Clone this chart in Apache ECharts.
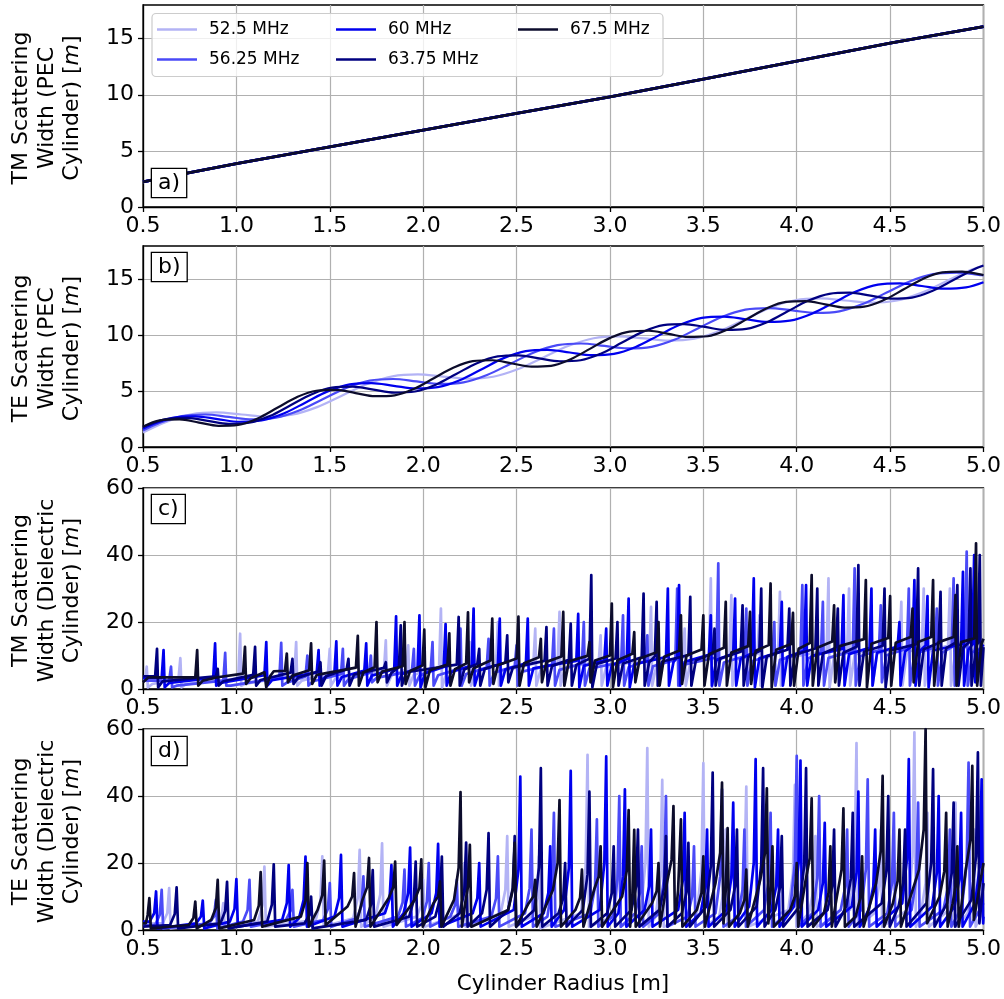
<!DOCTYPE html>
<html>
<head>
<meta charset="utf-8">
<script src="https://cdn.jsdelivr.net/npm/echarts@6/dist/echarts.min.js"></script>
<style>html,body{margin:0;padding:0;background:#fff;}#chart{width:1004px;height:999px;}</style>
</head>
<body>
<div id="chart"></div>
<script>
// ---------- data ----------
const freqNames = ['52.5 MHz', '56.25 MHz', '60 MHz', '63.75 MHz', '67.5 MHz'];
const xTicks = [0.5, 1.0, 1.5, 2.0, 2.5, 3.0, 3.5, 4.0, 4.5, 5.0];
const yTicksPec = [0, 5, 10, 15];
const yTicksDiel = [0, 20, 40, 60];

// a) TM, PEC cylinder (all five frequencies coincide)
const tmPecWidth = [[0.5,2.23],[0.75,3.07],[1.0,3.87],[1.5,5.36],[2.0,6.85],[2.5,8.34],[3.0,9.82],[3.5,11.4],[4.0,13.0],[4.5,14.6],[5.0,16.07]];

// b) TE, PEC cylinder
const tePec525 = [[0.5,1.29],[0.624,2.25],[0.759,2.93],[0.893,3.10],[1.028,2.91],[1.163,2.72],[1.297,2.89],[1.432,3.57],[1.567,4.61],[1.701,5.65],[1.836,6.33],[1.971,6.50],[2.105,6.31],[2.240,6.12],[2.375,6.29],[2.509,6.98],[2.644,8.02],[2.779,9.06],[2.913,9.74],[3.048,9.91],[3.183,9.72],[3.317,9.53],[3.452,9.70],[3.587,10.38],[3.722,11.42],[3.856,12.46],[3.991,13.14],[4.126,13.31],[4.260,13.12],[4.395,12.93],[4.530,13.10],[4.664,13.78],[4.799,14.83],[4.934,15.87],[5.0,16.26]];
const tePec5625 = [[0.5,1.47],[0.582,2.11],[0.708,2.77],[0.834,2.91],[0.959,2.69],[1.085,2.47],[1.211,2.62],[1.336,3.27],[1.462,4.28],[1.588,5.29],[1.714,5.95],[1.839,6.09],[1.965,5.87],[2.091,5.65],[2.216,5.79],[2.342,6.45],[2.468,7.46],[2.593,8.47],[2.719,9.12],[2.845,9.27],[2.971,9.05],[3.096,8.83],[3.222,8.97],[3.348,9.62],[3.473,10.64],[3.599,11.65],[3.725,12.30],[3.850,12.44],[3.976,12.23],[4.102,12.01],[4.228,12.15],[4.353,12.80],[4.479,13.81],[4.605,14.83],[4.730,15.48],[4.856,15.62],[4.982,15.40],[5.0,15.37]];
const tePec60 = [[0.5,1.64],[0.546,2.00],[0.664,2.63],[0.781,2.74],[0.899,2.50],[1.017,2.26],[1.135,2.38],[1.253,3.00],[1.371,3.99],[1.489,4.98],[1.607,5.61],[1.724,5.72],[1.842,5.48],[1.960,5.24],[2.078,5.36],[2.196,5.98],[2.314,6.97],[2.431,7.96],[2.549,8.59],[2.667,8.70],[2.785,8.46],[2.903,8.22],[3.021,8.34],[3.138,8.96],[3.256,9.95],[3.374,10.94],[3.492,11.57],[3.610,11.68],[3.728,11.44],[3.845,11.20],[3.963,11.31],[4.081,11.94],[4.199,12.93],[4.317,13.92],[4.435,14.54],[4.553,14.66],[4.670,14.42],[4.788,14.18],[4.906,14.29],[5.0,14.75]];
const tePec6375 = [[0.5,1.79],[0.514,1.90],[0.625,2.50],[0.736,2.60],[0.847,2.34],[0.958,2.07],[1.068,2.17],[1.179,2.77],[1.290,3.74],[1.401,4.70],[1.512,5.31],[1.623,5.40],[1.734,5.14],[1.845,4.87],[1.956,4.97],[2.067,5.58],[2.177,6.54],[2.288,7.51],[2.399,8.11],[2.510,8.21],[2.621,7.94],[2.732,7.68],[2.843,7.77],[2.954,8.38],[3.065,9.35],[3.175,10.31],[3.286,10.92],[3.397,11.01],[3.508,10.75],[3.619,10.48],[3.730,10.58],[3.841,11.18],[3.952,12.15],[4.063,13.11],[4.174,13.72],[4.284,13.82],[4.395,13.55],[4.506,13.29],[4.617,13.38],[4.728,13.99],[4.839,14.95],[4.950,15.92],[5.0,16.25]];
const tePec675 = [[0.5,1.82],[0.590,2.39],[0.695,2.47],[0.800,2.19],[0.904,1.90],[1.009,1.98],[1.114,2.56],[1.219,3.51],[1.323,4.46],[1.428,5.04],[1.533,5.12],[1.638,4.83],[1.742,4.55],[1.847,4.63],[1.952,5.21],[2.057,6.16],[2.161,7.10],[2.266,7.69],[2.371,7.77],[2.476,7.48],[2.580,7.20],[2.685,7.27],[2.790,7.86],[2.895,8.81],[2.999,9.75],[3.104,10.34],[3.209,10.41],[3.314,10.13],[3.418,9.85],[3.523,9.92],[3.628,10.51],[3.733,11.45],[3.837,12.40],[3.942,12.99],[4.047,13.06],[4.152,12.78],[4.256,12.49],[4.361,12.57],[4.466,13.16],[4.571,14.10],[4.675,15.05],[4.780,15.63],[4.885,15.71],[4.990,15.43],[5.0,15.40]];

// c) TM, dielectric cylinder
const tmDiel525 = [[0.5,3.0],[0.512,3.0],[0.52,6.7],[0.526,0.5],[0.55,1.5],[0.69,3.0],[0.7,9.2],[0.706,0.5],[0.73,1.5],[1.01,3.1],[1.02,16.5],[1.026,1.0],[1.05,1.6],[1.31,4.0],[1.32,14],[1.326,1],[1.35,2.5],[1.49,4.6],[1.5,12],[1.506,1],[1.53,3.1],[1.79,5.5],[1.8,14.5],[1.806,1],[1.83,4],[1.91,5.8],[1.92,13],[1.926,1],[1.95,4.3],[2.085,6.2],[2.095,24],[2.101,0.5],[2.125,4.7],[2.24,6.6],[2.25,14],[2.256,1],[2.28,5.1],[2.39,7],[2.4,20],[2.406,1],[2.43,5.5],[2.59,7.5],[2.6,18],[2.606,1],[2.63,6],[2.72,7.8],[2.73,23],[2.736,1],[2.76,6.3],[2.94,8.2],[2.95,16],[2.956,1],[2.98,6.7],[3.21,8.8],[3.22,24.5],[3.226,1],[3.25,7.3],[3.39,9.3],[3.4,18],[3.406,1],[3.43,7.8],[3.53,9.8],[3.54,33],[3.546,0.5],[3.57,8.3],[3.64,10.1],[3.65,28],[3.656,1],[3.68,8.6],[3.79,10.5],[3.8,22],[3.806,1],[3.83,9],[3.9,10.8],[3.91,29],[3.916,1],[3.94,9.3],[4.16,11.4],[4.17,33],[4.176,0.5],[4.2,9.9],[4.27,11.7],[4.28,30],[4.286,1],[4.31,10.2],[4.39,12],[4.4,25],[4.406,1],[4.43,10.5],[4.55,12.4],[4.56,26],[4.566,1],[4.59,10.9],[4.67,12.7],[4.68,30],[4.686,1],[4.71,11.2],[4.81,13],[4.82,30],[4.826,1],[4.85,11.5],[4.9,13],[4.91,35],[4.916,1],[4.94,11.5],[5.0,13]];
const tmDiel5625 = [[0.5,2.5],[0.64,2.5],[0.65,6.7],[0.656,0.5],[0.68,1.0],[0.93,2.5],[0.94,10.8],[0.946,1],[0.97,1.0],[1.23,3.4],[1.24,13.8],[1.246,1],[1.27,1.9],[1.37,3.75],[1.38,10],[1.386,1],[1.41,2.3],[1.56,4.4],[1.57,12],[1.576,1],[1.6,2.9],[1.71,4.8],[1.72,10],[1.726,2],[1.75,3.3],[1.94,5.4],[1.95,12],[1.956,1],[1.98,3.9],[2.04,5.6],[2.05,14],[2.056,1],[2.08,4.1],[2.19,6.0],[2.2,18],[2.206,1],[2.23,4.5],[2.34,6.4],[2.35,15],[2.356,1],[2.38,4.9],[2.49,6.75],[2.5,13],[2.506,1],[2.53,5.2],[2.69,7.25],[2.7,18],[2.706,1],[2.73,5.7],[2.85,7.6],[2.86,20],[2.866,1],[2.89,6.1],[3.06,8],[3.07,22],[3.076,1],[3.1,6.5],[3.19,8.3],[3.2,16],[3.206,1],[3.23,6.8],[3.35,8.7],[3.36,30],[3.366,1],[3.39,7.2],[3.57,9.4],[3.58,37.5],[3.586,1],[3.61,7.9],[3.72,9.8],[3.73,24],[3.736,1],[3.76,8.3],[3.87,10.2],[3.88,20],[3.886,1],[3.91,8.7],[4.02,10.6],[4.03,31],[4.036,1],[4.06,9.1],[4.13,10.85],[4.14,26],[4.146,1],[4.17,9.3],[4.3,11.3],[4.31,36],[4.316,1],[4.34,9.8],[4.44,11.6],[4.45,25],[4.456,2],[4.48,10.1],[4.59,12],[4.6,30],[4.606,1],[4.63,10.5],[4.74,12.4],[4.75,24],[4.756,1],[4.78,10.9],[4.83,12.5],[4.84,33],[4.846,1],[4.87,11],[4.9,12.5],[4.91,41],[4.916,1],[4.94,11],[5.0,12.5]];
const tmDiel60 = [[0.5,3.3],[0.6,3.3],[0.61,11.6],[0.616,0.5],[0.64,1.8],[0.876,3.3],[0.886,13.6],[0.892,1],[0.916,1.8],[1.15,4.1],[1.16,14],[1.166,1],[1.19,2.6],[1.43,4.9],[1.44,11.6],[1.446,1],[1.47,3.4],[1.525,5.1],[1.535,14.2],[1.541,1],[1.565,3.6],[1.685,5.5],[1.695,13.6],[1.701,1],[1.725,4],[1.845,5.9],[1.855,21.7],[1.861,1],[1.885,4.4],[1.97,6.2],[1.98,22],[1.986,0.5],[2.01,4.7],[2.11,6.6],[2.12,19.4],[2.126,1],[2.15,5.1],[2.26,7],[2.27,24],[2.276,1],[2.3,5.5],[2.4,7.3],[2.41,21],[2.416,1],[2.44,5.8],[2.55,7.7],[2.56,21],[2.566,1],[2.59,6.2],[2.82,8.4],[2.83,22.4],[2.836,0.5],[2.86,6.9],[2.97,8.6],[2.98,18],[2.986,1],[3.01,7.1],[3.09,8.9],[3.1,27],[3.106,0.5],[3.13,7.4],[3.3,9.5],[3.31,30],[3.316,1],[3.34,8],[3.36,9.6],[3.37,31],[3.376,1],[3.4,8.1],[3.53,10.2],[3.54,22],[3.546,1],[3.57,8.7],[3.66,10.5],[3.67,27],[3.676,1],[3.7,9],[3.76,10.7],[3.77,33],[3.776,0.5],[3.8,9.2],[3.91,11.1],[3.92,26],[3.926,1],[3.95,9.6],[4.04,11.4],[4.05,31],[4.056,1],[4.08,9.9],[4.24,11.9],[4.25,28],[4.256,1],[4.28,10.4],[4.39,12.3],[4.4,30],[4.406,1],[4.43,10.8],[4.54,12.7],[4.55,20],[4.556,1],[4.58,11.2],[4.62,12.9],[4.63,32.5],[4.636,1],[4.66,11.4],[4.69,13],[4.7,27.7],[4.706,0.5],[4.73,11.5],[4.88,13.3],[4.89,35],[4.896,1],[4.92,11.8],[4.94,13.3],[4.95,40],[4.956,2],[4.98,11.8],[5.0,13.3]];
const tmDiel6375 = [[0.5,3.8],[0.565,3.8],[0.575,12],[0.581,0.5],[0.605,2.3],[0.89,3.8],[0.9,6],[0.906,1],[0.93,2.3],[1.09,4.2],[1.1,12.6],[1.106,1],[1.13,2.7],[1.29,4.9],[1.3,9],[1.306,1.5],[1.33,3.4],[1.44,5.3],[1.45,8],[1.456,1],[1.48,3.8],[1.59,5.8],[1.6,9],[1.606,1],[1.63,4.3],[1.79,6.3],[1.8,8],[1.806,2],[1.83,4.8],[1.87,6.5],[1.88,19],[1.886,1],[1.91,5],[2.18,7.3],[2.19,21.5],[2.196,1],[2.22,5.8],[2.29,7.5],[2.3,12],[2.306,1],[2.33,6],[2.44,7.9],[2.45,16],[2.456,2],[2.48,6.4],[2.65,8.4],[2.66,18.5],[2.666,1],[2.69,6.9],[2.78,8.7],[2.79,19.5],[2.796,1],[2.82,7.2],[2.89,9],[2.9,34],[2.906,0.5],[2.93,7.5],[3.03,9.1],[3.04,20],[3.046,1],[3.07,7.6],[3.17,9.5],[3.18,28.5],[3.186,1],[3.21,8],[3.24,9.7],[3.25,26],[3.256,1],[3.28,8.2],[3.42,10.1],[3.43,27.5],[3.436,1],[3.46,8.6],[3.55,10.6],[3.56,18],[3.566,1],[3.59,9.1],[3.7,11.1],[3.71,25],[3.716,1],[3.74,9.6],[3.8,11.3],[3.81,30],[3.816,0.5],[3.84,9.8],[3.95,11.7],[3.96,24],[3.966,1],[3.99,10.2],[4.1,12.1],[4.11,30],[4.116,1],[4.14,10.6],[4.21,12.3],[4.22,24],[4.226,1],[4.25,10.8],[4.32,12.6],[4.33,37],[4.336,1],[4.36,11.1],[4.46,12.9],[4.47,30],[4.476,0.5],[4.5,11.4],[4.64,13.4],[4.65,36],[4.656,1],[4.68,11.9],[4.76,13.7],[4.77,29],[4.776,1],[4.8,12.2],[4.85,13.8],[4.86,31],[4.866,1],[4.89,12.3],[4.92,13.8],[4.93,36],[4.936,1],[4.96,12.3],[4.97,13.8],[4.98,40],[4.986,1],[5.0,12.5]];
const tmDiel675 = [[0.5,2.0],[0.53,3.5],[0.78,3.5],[0.79,11.6],[0.796,1],[0.82,2.5],[0.9,3.5],[1.036,4.6],[1.046,12.6],[1.052,1.5],[1.076,3.2],[1.15,5],[1.16,0.5],[1.18,3.8],[1.2,5.3],[1.26,5.4],[1.27,10.6],[1.276,2],[1.3,4.0],[1.39,5.6],[1.4,13.6],[1.406,1.5],[1.43,4.2],[1.64,6.4],[1.65,15.9],[1.656,1],[1.68,5],[1.74,6.5],[1.75,20],[1.756,2],[1.78,5.2],[1.89,6.8],[1.9,20],[1.906,1.5],[1.93,5.4],[1.996,7],[2.006,17.7],[2.012,0.5],[2.036,5.6],[2.13,7.3],[2.14,16.6],[2.146,1],[2.17,5.9],[2.23,7.6],[2.24,22.9],[2.246,2],[2.27,6.2],[2.36,8.5],[2.37,21],[2.376,1.5],[2.4,7.1],[2.5,9.1],[2.51,21.6],[2.516,1],[2.54,7.7],[2.62,9.5],[2.63,15],[2.636,2],[2.66,8.1],[2.74,9.7],[2.75,23],[2.756,1],[2.78,8.3],[2.88,9.9],[2.89,14],[2.896,2],[2.92,8.5],[3.0,10],[3.01,25.5],[3.016,0.5],[3.04,8.6],[3.12,10.5],[3.13,17],[3.136,2],[3.16,9.1],[3.25,11],[3.26,20],[3.266,1],[3.29,9.6],[3.37,11.4],[3.38,22],[3.386,1.5],[3.41,10],[3.49,11.8],[3.5,22],[3.506,1],[3.53,10.4],[3.61,12.3],[3.62,26],[3.626,1],[3.65,10.9],[3.74,12.8],[3.75,23],[3.756,1.5],[3.78,11.4],[3.85,13.1],[3.86,31.5],[3.866,0.5],[3.89,11.7],[3.97,13.4],[3.98,22.7],[3.986,1],[4.01,12],[4.07,13.7],[4.08,34],[4.086,1],[4.11,12.3],[4.19,14.2],[4.2,25],[4.206,2],[4.23,12.8],[4.36,14.9],[4.37,32.5],[4.376,0.5],[4.4,13.5],[4.49,15.2],[4.5,27.7],[4.506,1],[4.53,13.8],[4.61,15.5],[4.62,24],[4.626,2],[4.65,14],[4.72,15.5],[4.73,32.5],[4.736,1],[4.76,14],[4.84,15.5],[4.85,28],[4.856,1],[4.88,14],[4.95,15.1],[4.96,43.5],[4.966,1],[4.99,13.6],[5.0,15]];

// d) TE, dielectric cylinder
const teDiel525 = [[0.5,2.0],[0.605,2],[0.63,5],[0.64,12.5],[0.648,0.5],[0.895,2],[0.92,3.8],[0.93,8],[0.938,0.8],[1.115,2.5],[1.14,7.5],[1.15,18.9],[1.158,1],[1.425,3],[1.45,8.7],[1.46,22],[1.468,1],[1.625,3.5],[1.65,9.6],[1.66,23.9],[1.668,1],[1.745,4],[1.77,10.6],[1.78,25.9],[1.788,1],[1.965,4],[1.99,7.3],[2.0,15],[2.008,1],[2.185,4.5],[2.21,9],[2.22,20],[2.228,1],[2.415,5],[2.44,12],[2.45,28],[2.458,1],[2.585,4],[2.61,9.4],[2.62,22],[2.628,0.5],[2.845,5],[2.87,19],[2.88,52.3],[2.888,1],[3.015,4],[3.04,12],[3.05,30],[3.058,1],[3.165,5],[3.19,20],[3.2,54.3],[3.208,1],[3.245,4],[3.27,16],[3.28,44.8],[3.288,1],[3.465,5],[3.49,18],[3.5,49.8],[3.508,1],[3.585,4],[3.61,12],[3.62,30],[3.628,1],[3.695,5],[3.72,16],[3.73,42.8],[3.738,1],[3.955,6],[3.98,17],[3.99,43.3],[3.998,1],[4.065,5],[4.09,12],[4.1,28],[4.108,1],[4.285,6],[4.31,21],[4.32,55.8],[4.328,1],[4.415,5],[4.44,13],[4.45,30],[4.458,1],[4.595,6],[4.62,22],[4.63,59],[4.638,1],[4.665,5],[4.69,14],[4.7,35],[4.708,1],[4.815,6],[4.84,15],[4.85,38],[4.858,1],[4.915,5],[4.94,12],[4.95,30],[4.958,1],[5.0,6]];
const teDiel5625 = [[0.5,1.5],[0.565,1.5],[0.59,4.6],[0.6,12],[0.608,0.5],[0.855,2],[0.88,4],[0.89,9],[0.898,0.5],[1.035,2.5],[1.06,6],[1.07,15],[1.078,1],[1.265,3],[1.29,5.7],[1.3,12],[1.308,1],[1.465,3],[1.49,6.3],[1.5,14],[1.508,1],[1.645,3.5],[1.67,7.2],[1.68,16],[1.688,1],[1.865,4],[1.89,8.2],[1.9,18],[1.908,1],[1.995,3.5],[2.02,8.5],[2.03,20],[2.038,1],[2.145,4],[2.17,7.3],[2.18,15],[2.188,1],[2.365,4],[2.39,9.4],[2.4,22],[2.408,1],[2.545,5],[2.57,12.5],[2.58,30],[2.588,1],[2.665,4],[2.69,13],[2.7,35],[2.708,1],[2.895,5],[2.92,13],[2.93,33],[2.938,1],[3.015,4],[3.04,15],[3.05,40],[3.058,1],[3.135,5],[3.16,11],[3.17,25],[3.178,1],[3.265,5],[3.29,15.5],[3.3,40],[3.308,1],[3.415,4],[3.44,10],[3.45,25],[3.458,1],[3.565,5],[3.59,16],[3.6,42],[3.608,1],[3.685,4],[3.71,12],[3.72,30],[3.728,1],[3.825,6],[3.85,14.7],[3.86,35],[3.868,1],[3.965,6],[3.99,20],[4.0,52],[4.008,1],[4.085,5],[4.11,15.5],[4.12,40],[4.128,1],[4.235,6],[4.26,13],[4.27,30],[4.278,1],[4.345,6],[4.37,18],[4.38,45],[4.388,1],[4.485,5],[4.51,14],[4.52,35],[4.528,1],[4.615,6],[4.64,15.6],[4.65,38],[4.658,1],[4.785,6],[4.81,13],[4.82,30],[4.828,1],[4.885,7],[4.91,20],[4.92,50],[4.928,1],[5.0,8]];
const teDiel60 = [[0.5,2.5],[0.535,2.5],[0.56,5],[0.57,11.5],[0.578,0.5],[0.785,2],[0.81,4],[0.82,8.8],[0.828,0.5],[0.965,2.5],[0.99,6.3],[1.0,15.2],[1.008,1],[1.245,3],[1.27,8],[1.28,19.4],[1.288,1],[1.335,3.5],[1.36,9],[1.37,21.9],[1.378,1],[1.525,4],[1.55,9.5],[1.56,22.4],[1.568,1],[1.795,5],[1.82,9.3],[1.83,19.4],[1.838,1],[1.895,5],[1.92,11],[1.93,24.6],[1.938,1],[2.045,5],[2.07,11],[2.08,25.7],[2.088,1],[2.265,5],[2.29,9.5],[2.3,20],[2.308,1],[2.485,6],[2.51,18],[2.52,45.8],[2.528,1],[2.645,5],[2.67,11],[2.68,25],[2.688,1],[2.755,6],[2.78,18.5],[2.79,47.5],[2.798,1],[2.945,6],[2.97,20],[2.98,51.8],[2.988,1],[3.045,5],[3.07,16],[3.08,42],[3.088,1],[3.185,6],[3.21,13],[3.22,30],[3.228,1],[3.365,6],[3.39,14.7],[3.4,35],[3.408,1],[3.485,5],[3.51,12.5],[3.52,30],[3.528,1],[3.625,6],[3.65,15.6],[3.66,38],[3.668,1],[3.745,7],[3.77,20],[3.78,51],[3.788,1],[3.865,6],[3.89,13],[3.9,30],[3.908,1],[3.985,7],[4.01,20],[4.02,50.6],[4.028,1],[4.115,6],[4.14,14],[4.15,32],[4.158,1],[4.295,7],[4.32,17],[4.33,41.3],[4.338,1],[4.385,6],[4.41,13],[4.42,30],[4.428,1],[4.565,8],[4.59,21],[4.6,51],[4.608,1],[4.725,7],[4.75,17],[4.76,40],[4.768,1],[4.845,7],[4.87,15],[4.88,35],[4.888,1],[4.955,8],[4.98,19],[4.99,45],[4.998,2],[5.0,4]];
const teDiel6375 = [[0.5,1.0],[0.645,1.5],[0.67,4.8],[0.68,12.7],[0.688,0.5],[0.915,2],[0.94,5.7],[0.95,14.4],[0.958,0.5],[1.165,2.5],[1.19,7.6],[1.2,19.6],[1.208,1],[1.365,2],[1.39,4.4],[1.4,10],[1.408,0.5],[1.695,3],[1.72,7.5],[1.73,17.9],[1.738,1],[1.925,4],[1.95,9],[1.96,20.4],[1.968,1],[2.065,4],[2.09,9.4],[2.1,21.9],[2.108,1],[2.195,5],[2.22,11.3],[2.23,26.1],[2.238,1],[2.315,5],[2.34,12],[2.35,28.9],[2.358,1],[2.455,6],[2.48,12.6],[2.49,28],[2.498,1],[2.595,6],[2.62,18.7],[2.63,48.3],[2.638,1],[2.725,5],[2.75,9.5],[2.76,20],[2.768,1],[2.855,6],[2.88,16.6],[2.89,41.3],[2.898,1],[2.985,5],[3.01,11],[3.02,25],[3.028,1],[3.115,6],[3.14,13],[3.15,30],[3.158,1],[3.265,6],[3.29,12.6],[3.3,28],[3.308,1],[3.385,5],[3.41,11.3],[3.42,26],[3.428,1],[3.515,7],[3.54,19],[3.55,47],[3.558,1],[3.645,6],[3.67,13],[3.68,30],[3.688,1],[3.785,7],[3.81,19.4],[3.82,48.3],[3.828,1],[3.885,6],[3.91,12.6],[3.92,28],[3.928,1],[4.015,7],[4.04,19.4],[4.05,48.3],[4.058,1],[4.165,6],[4.19,13],[4.2,30],[4.208,1],[4.265,7],[4.29,15.4],[4.3,35],[4.308,1],[4.455,8],[4.48,17.6],[4.49,40],[4.498,1],[4.545,7],[4.57,14],[4.58,30],[4.588,1],[4.695,8],[4.72,20],[4.73,48],[4.738,1],[4.805,8],[4.83,17],[4.84,38],[4.848,1],[4.935,9],[4.96,22],[4.97,53],[4.978,2],[5.0,14]];
const teDiel675 = [[0.5,2.0],[0.515,2],[0.525,4.5],[0.534,9.5],[0.542,0.5],[0.745,1.5],[0.77,3.6],[0.78,8.5],[0.788,0.5],[0.865,3],[0.89,6.6],[0.9,15],[0.908,0.5],[1.095,3],[1.12,7.3],[1.13,17.3],[1.138,1],[1.345,4],[1.37,8.8],[1.38,20],[1.388,1],[1.435,6],[1.46,10.4],[1.47,20.7],[1.478,1.5],[1.595,7],[1.62,10],[1.63,17],[1.638,1],[1.675,9],[1.7,12.8],[1.71,21.5],[1.718,1],[1.815,9.5],[1.84,12.8],[1.85,20.4],[1.858,1.5],[1.955,9],[1.98,12.6],[1.99,21.1],[1.998,1],[2.055,8],[2.08,10],[2.09,14.5],[2.098,1],[2.165,9],[2.19,18.6],[2.2,41.2],[2.208,1],[2.225,8],[2.24,13],[2.25,25.4],[2.258,1],[2.455,6],[2.48,12],[2.49,26],[2.498,1],[2.565,8],[2.59,10],[2.6,15],[2.608,1],[2.695,12],[2.72,20],[2.73,38.8],[2.738,1],[2.815,6],[2.84,9.6],[2.85,18],[2.858,1],[2.915,12],[2.94,16],[2.95,25],[2.958,1],[3.065,10],[3.09,17.7],[3.1,35.8],[3.108,1],[3.12,10],[3.13,29.9],[3.138,1],[3.225,8],[3.25,11.6],[3.26,20],[3.268,1],[3.305,14],[3.33,21],[3.34,37],[3.348,2],[3.365,12],[3.38,33],[3.388,1],[3.465,6],[3.49,11],[3.5,22],[3.508,1],[3.565,14],[3.59,23],[3.6,44],[3.608,2],[3.62,12],[3.63,30.4],[3.638,1],[3.695,5],[3.72,9],[3.73,18],[3.738,1],[3.805,15],[3.83,23],[3.84,42.3],[3.848,2],[3.86,12],[3.87,25],[3.878,1],[3.965,6],[3.99,10],[4.0,20],[4.008,1],[4.045,14],[4.07,21.5],[4.08,39.3],[4.088,1],[4.145,5],[4.17,11],[4.18,25],[4.188,1],[4.215,10],[4.24,18],[4.25,36.3],[4.258,1],[4.315,4],[4.34,9.4],[4.35,22],[4.358,1],[4.425,14],[4.45,23.6],[4.46,46],[4.468,1],[4.515,8],[4.54,14.6],[4.55,30],[4.558,1],[4.655,18],[4.68,30],[4.69,60],[4.698,2],[4.765,10],[4.79,17.5],[4.8,35],[4.808,1],[4.835,8],[4.85,13],[4.86,25],[4.868,1],[4.905,18],[4.93,27],[4.94,49],[4.948,3],[5.0,20]];

// ---------- styling ----------
const colors = ['#b3b3f5', '#4a4af7', '#0000ee', '#000080', '#0c0c2c'];
const FONT = 'DejaVu Sans';
const panelData = [
  [tmPecWidth, tmPecWidth, tmPecWidth, tmPecWidth, tmPecWidth],
  [tePec525, tePec5625, tePec60, tePec6375, tePec675],
  [tmDiel525, tmDiel5625, tmDiel60, tmDiel6375, tmDiel675],
  [teDiel525, teDiel5625, teDiel60, teDiel6375, teDiel675]
];
const gridTops = [5, 246, 488, 729];
const gridHeights = [202, 201, 201, 201];
const yLabelLines = [
  ['TM Scattering', 'Width (PEC'],
  ['TE Scattering', 'Width (PEC'],
  ['TM Scattering', 'Width (Dielectric'],
  ['TE Scattering', 'Width (Dielectric']
];
const panelLetters = ['a)', 'b)', 'c)', 'd)'];
const letterTops = [169, 253, 495, 737];
const lineWidths = [2.8, 2.2, 2.7, 2.7];

const grids = [], xAxes = [], yAxes = [], series = [], graphics = [];
for (let p = 0; p < 4; p++) {
  grids.push({left: 143, width: 843, top: gridTops[p], height: gridHeights[p],
    show: true, borderColor: '#000', borderWidth: 1.3, backgroundColor: 'transparent'});
  xAxes.push({type: 'value', gridIndex: p, min: 0.5, max: 5.0, interval: 0.5,
    axisLine: {show: true, lineStyle: {color: '#000', width: 1.3}},
    axisTick: {show: true, length: 5, lineStyle: {color: '#000', width: 1.3}},
    axisLabel: {color: '#000', fontSize: 22, fontFamily: FONT, margin: 8,
      formatter: v => v.toFixed(1)},
    splitLine: {show: true, lineStyle: {color: '#b0b0b0', width: 1.2}}});
  const pec = p < 2;
  yAxes.push({type: 'value', gridIndex: p, min: 0, max: pec ? 18 : 60, interval: pec ? 5 : 20,
    axisLine: {show: true, lineStyle: {color: '#000', width: 1.3}},
    axisTick: {show: true, length: 5, lineStyle: {color: '#000', width: 1.3},
      customValues: pec ? yTicksPec : yTicksDiel},
    axisLabel: {color: '#000', fontSize: 22, fontFamily: FONT, margin: 9,
      customValues: pec ? yTicksPec : yTicksDiel},
    splitLine: {show: true, lineStyle: {color: '#b0b0b0', width: 1.2}}});
  for (let k = 0; k < 5; k++) {
    series.push({type: 'line', name: freqNames[k], xAxisIndex: p, yAxisIndex: p,
      data: panelData[p][k], showSymbol: false, symbol: 'none',
      smooth: p === 1 ? 0.35 : false, animation: false, z: 2 + k * 0.01,
      lineStyle: {color: colors[k], width: lineWidths[p], join: 'round'},
      itemStyle: {color: colors[k]}, emphasis: {disabled: true}});
  }
  const cy = gridTops[p] + gridHeights[p] / 2 + 2;
  graphics.push({type: 'text', x: 47, y: cy, rotation: Math.PI / 2, z: 10,
    style: {text: yLabelLines[p][0] + '\n' + yLabelLines[p][1] + '\nCylinder) [{i|m}]',
      fill: '#000', fontSize: 22, fontFamily: FONT, align: 'center', verticalAlign: 'middle',
      lineHeight: 25.5,
      rich: {i: {fontStyle: 'italic', fontSize: 22, fontFamily: FONT, fill: '#000', lineHeight: 25.5}}}});
  graphics.push({type: 'text', x: 152, y: letterTops[p], z: 10,
    style: {text: panelLetters[p], fill: '#000', fontSize: 22, fontFamily: FONT,
      align: 'left', verticalAlign: 'top', padding: [3, 6, 3, 6],
      borderColor: '#000', borderWidth: 1.3, backgroundColor: '#fff'}});
}
// legend frame
graphics.push({type: 'rect', shape: {x: 152, y: 13.5, width: 511, height: 63, r: 4}, z: 3,
  style: {fill: 'rgba(255,255,255,0.8)', stroke: '#cccccc', lineWidth: 1.2}});
// x-axis title
graphics.push({type: 'text', x: 563, y: 984, z: 10,
  style: {text: 'Cylinder Radius [m]', fill: '#000', fontSize: 21.5, fontFamily: FONT,
    align: 'center', verticalAlign: 'middle'}});

const legendBase = {orient: 'vertical', top: 19.5, icon: 'rect', itemWidth: 40, itemHeight: 2.6,
  itemGap: 10, padding: 0, z: 5, selectedMode: false,
  textStyle: {color: '#000', fontSize: 17, fontFamily: FONT, lineHeight: 20, padding: [0, 0, 0, 7]}};
const legends = [
  Object.assign({}, legendBase, {left: 157, data: [freqNames[0], freqNames[1]]}),
  Object.assign({}, legendBase, {left: 336, data: [freqNames[2], freqNames[3]]}),
  Object.assign({}, legendBase, {left: 518, data: [freqNames[4]]})
];

const chart = echarts.init(document.getElementById('chart'), null, {renderer: 'canvas'});
chart.setOption({
  animation: false,
  backgroundColor: '#fff',
  grid: grids, xAxis: xAxes, yAxis: yAxes, series: series,
  legend: legends, graphic: graphics
});
</script>
</body>
</html>
